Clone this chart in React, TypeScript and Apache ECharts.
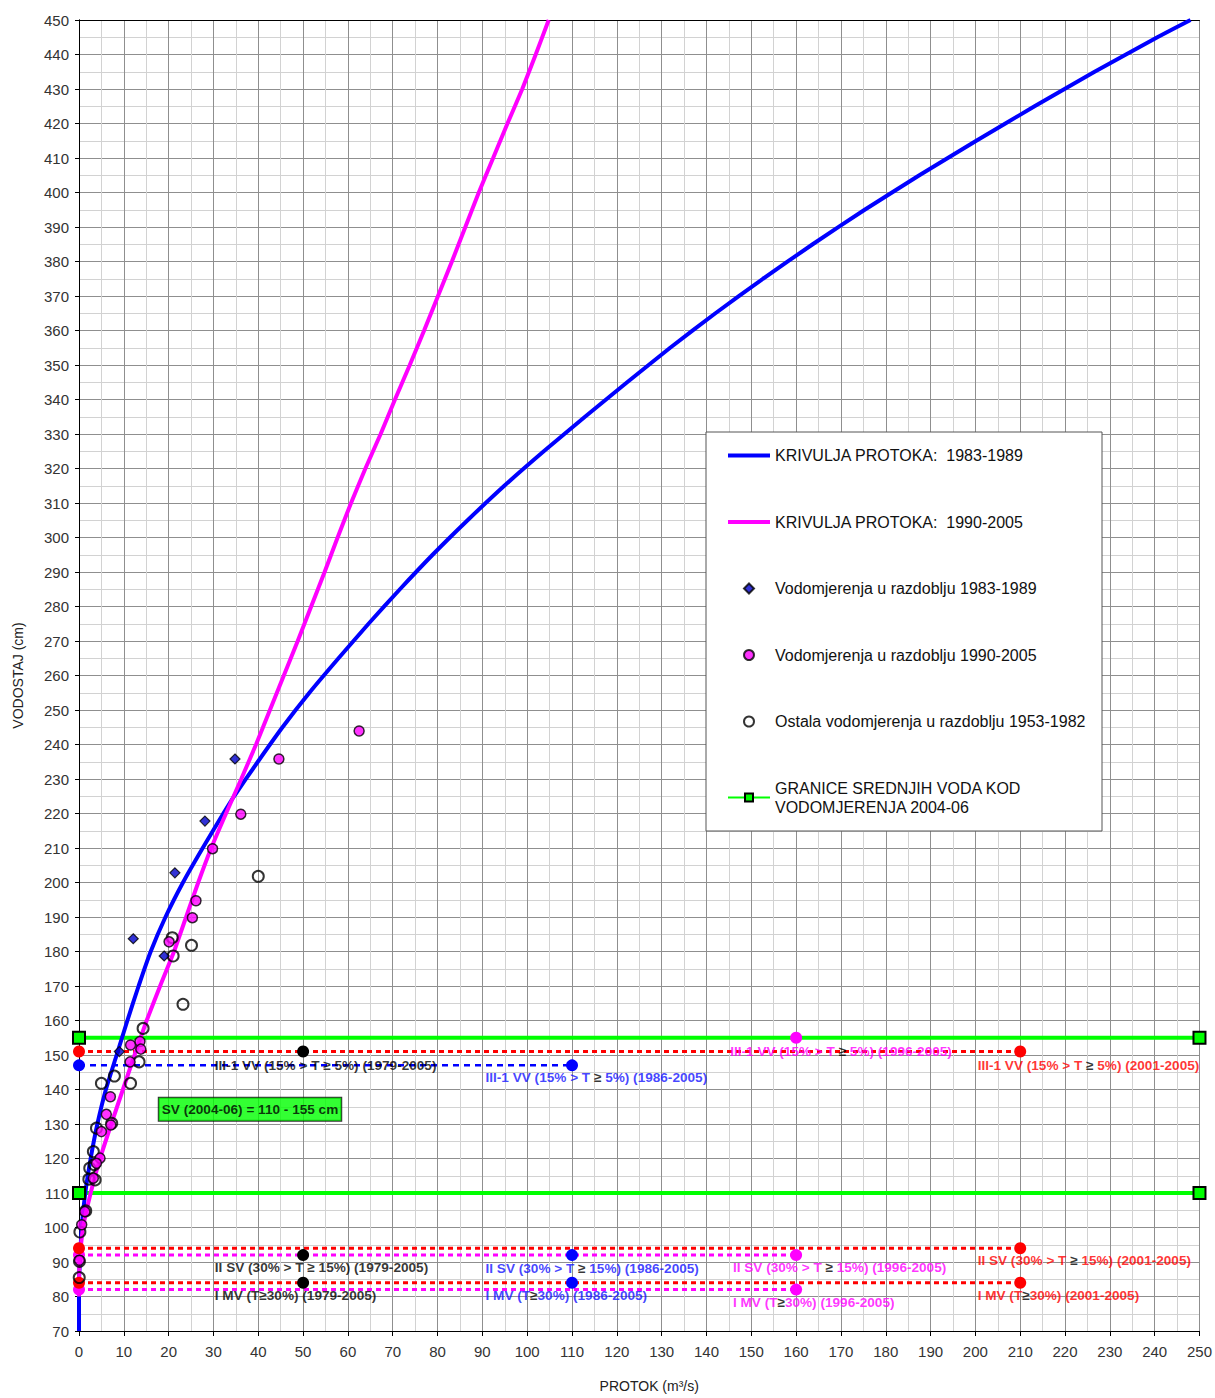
import React, { useEffect, useRef } from "react";
import * as echarts from "echarts";

const FONT = '"Liberation Sans", Arial, Helvetica, sans-serif';

// Rating curves [Q (m3/s), H (cm)]
const curve19831989: [number, number][] = [
  [0, 70], [0, 85], [0.2, 90], [0.6, 100], [1.4, 110], [2.6, 120], [4.1, 130],
  [6.0, 140], [8.4, 150], [10.8, 160], [13.3, 170], [16.0, 180], [19.3, 190],
  [23.2, 200], [27.6, 210], [32.2, 220], [34.6, 225], [39.9, 235], [45.4, 245],
  [51.4, 255], [57.9, 265], [64.6, 275], [71.6, 285], [78.9, 295], [86.7, 305],
  [94.9, 315], [103.7, 325], [112.9, 335], [122.3, 345], [131.9, 355], [142.0, 365],
  [152.6, 375], [163.7, 385], [175.3, 395], [187.5, 405], [200.2, 415], [213.2, 425],
  [226.6, 435], [240.6, 445], [248.0, 450],
];

const curve19902005: [number, number][] = [
  [0, 80], [0.1, 90], [0.9, 100], [2.6, 110], [4.7, 120], [7.2, 130], [9.8, 140],
  [12.4, 150], [15.1, 160], [18.1, 170], [21.2, 180], [23.9, 190], [26.6, 200],
  [29.5, 210], [32.8, 220], [36.2, 230], [39.5, 240], [42.6, 250], [45.7, 260],
  [48.8, 270], [51.8, 280], [54.8, 290], [57.7, 300], [60.7, 310], [63.9, 320],
  [67.3, 330], [70.5, 340], [73.8, 350], [77.0, 360], [80.1, 370], [83.2, 380],
  [86.2, 390], [89.2, 400], [92.4, 410], [95.6, 420], [98.9, 430], [101.9, 440],
  [104.8, 450],
];

// Measurements
const meas19831989: [number, number][] = [
  [12.1, 183.7], [21.4, 202.8], [19.0, 178.7], [34.8, 235.8], [28.1, 217.8], [9.0, 151],
];

const meas19902005: [number, number][] = [
  [62.5, 243.9], [44.6, 235.8], [36.1, 219.8], [29.8, 209.8], [26.1, 194.7], [25.3, 189.8],
  [20.1, 182.8], [11.5, 152.9], [13.6, 153.9], [13.8, 151.7], [11.4, 148], [7.0, 137.9],
  [6.1, 132.8], [7.1, 129.7], [5.0, 127.8], [4.7, 120.1], [3.9, 118.6], [3.2, 114.3],
  [1.3, 104.6], [0.6, 100.8], [0.1, 90.5],
];

const meas19531982: [number, number][] = [
  [40.0, 201.8], [23.2, 164.7], [25.1, 181.8], [21.0, 178.7], [20.8, 184.0], [14.3, 157.7],
  [13.4, 148], [11.5, 141.8], [7.9, 143.9], [5.0, 141.8], [3.9, 128.8], [7.3, 130.2],
  [3.2, 122], [2.4, 117.2], [2.2, 114], [3.4, 118.2], [3.6, 113.8], [1.5, 104.8],
  [0.2, 98.7], [0.1, 90.2], [0.05, 85.5],
];

// Mean water limits 2004-06
const greenUpper: [number, number][] = [[0, 155], [250, 155]];
const greenLower: [number, number][] = [[0, 110], [250, 110]];

// Characteristic levels (dotted lines)
const redLevels = [151, 94, 84];
const redLevelEnd = 210;
const blueLevels = [147];
const blueLevelEnd = 110;
const magentaLevels = [92, 82];
const magentaLevelEnd = 160;

// Level markers
const redMarks: [number, number][] = [[0, 151], [210, 151], [0, 94], [210, 94], [0, 84], [210, 84]];
const blueMarks: [number, number][] = [[0, 147], [110, 147], [110, 92], [110, 84]];
const magentaMarks: [number, number][] = [[160, 155], [0, 92], [160, 92], [0, 82], [160, 82]];
const blackMarks: [number, number][] = [[50, 151], [50, 92], [50, 84]];

// Annotations
const annoTexts = [
  "III-1 VV (15% > T ≥ 5%) (1979-2005)",
  "III-1 VV (15% > T ≥ 5%) (1986-2005)",
  "III-1 VV (15% > T ≥ 5%) (1996-2005)",
  "III-1 VV (15% > T ≥ 5%) (2001-2005)",
  "II SV (30% > T ≥ 15%) (1979-2005)",
  "II SV (30% > T ≥ 15%) (1986-2005)",
  "II SV (30% > T ≥ 15%) (1996-2005)",
  "II SV (30% > T ≥ 15%) (2001-2005)",
  "I MV (T≥30%) (1979-2005)",
  "I MV (T≥30%) (1986-2005)",
  "I MV (T≥30%) (1996-2005)",
  "I MV (T≥30%) (2001-2005)",
];
const annoAnchors: [number, number][] = [
  [30.3, 147], [90.7, 143.5], [145.3, 151], [200.5, 147],
  [30.3, 88.5], [90.7, 88.2], [145.9, 88.5], [200.5, 90.5],
  [30.3, 80.4], [90.7, 80.4], [145.9, 78.4], [200.5, 80.4],
];
const annoColors = [
  "#000000", "#1414ff", "#ff00ff", "#ff0000",
  "#000000", "#1414ff", "#ff00ff", "#ff0000",
  "#000000", "#1414ff", "#ff00ff", "#ff0000",
];
const svText = "SV (2004-06) = 110 - 155 cm";
const svAnchor: [number, number] = [17.8, 134.3];

const N_BLUE = "KRIVULJA PROTOKA:  1983-1989";
const N_PINK = "KRIVULJA PROTOKA:  1990-2005";
const N_DIA = "Vodomjerenja u razdoblju 1983-1989";
const N_MAG = "Vodomjerenja u razdoblju 1990-2005";
const N_OPEN = "Ostala vodomjerenja u razdoblju 1953-1982";
const N_GREEN = "GRANICE SREDNJIH VODA KOD\nVODOMJERENJA 2004-06";

const BAR_ICON = "path://M0,0L42,0L42,4L0,4Z";
const DIAMOND_ICON = "path://M5,0L10,5L5,10L0,5Z";

function levelLine(y: number, end: number, color: string, dash: number[], width: number) {
  return {
    type: "line",
    data: [[0, y], [end, y]],
    symbol: "none",
    silent: true,
    lineStyle: { color, width, type: dash },
    z: 2,
  };
}

function markSeries(data: [number, number][], color: string) {
  return {
    type: "scatter",
    data,
    symbol: "circle",
    symbolSize: 12,
    silent: true,
    itemStyle: { color, opacity: 1 },
    z: 4,
  };
}

export default function App() {
  const ref = useRef<HTMLDivElement>(null);

  useEffect(() => {
    if (!ref.current) return;
    const chart = echarts.init(ref.current, undefined, { renderer: "svg" });

    const axisCommon = {
      type: "value",
      axisLine: { show: true, onZero: false, lineStyle: { color: "#000", width: 1 } },
      axisTick: { show: true, length: 5, lineStyle: { color: "#000" } },
      axisLabel: { fontSize: 15, color: "#333", fontFamily: FONT },
      splitLine: { show: true, lineStyle: { color: "#8f8f8f", width: 1 } },
      minorTick: { show: false, splitNumber: 2 },
      minorSplitLine: { show: true, lineStyle: { color: "#d2d2d2", width: 1 } },
    };

    const labelFont = 13.6;

    const option: any = {
      animation: false,
      backgroundColor: "#ffffff",
      textStyle: { fontFamily: FONT },
      grid: { left: 79, right: 14, top: 20, bottom: 65 },
      xAxis: [
        {
          ...axisCommon,
          min: 0,
          max: 250,
          interval: 10,
          name: "PROTOK (m³/s)",
          nameLocation: "middle",
          nameGap: 48,
          nameTextStyle: { fontSize: 14, color: "#222", padding: [0, 0, 0, 20] },
          axisLabel: { ...axisCommon.axisLabel, margin: 13 },
        },
        {
          type: "value", position: "top", min: 0, max: 250,
          axisLine: { show: true, lineStyle: { color: "#000" } },
          axisTick: { show: false }, axisLabel: { show: false }, splitLine: { show: false },
        },
      ],
      yAxis: [
        {
          ...axisCommon,
          min: 70,
          max: 450,
          interval: 10,
          name: "VODOSTAJ (cm)",
          nameLocation: "middle",
          nameGap: 54,
          nameTextStyle: { fontSize: 14, color: "#222" },
          axisTick: { show: true, length: 4, lineStyle: { color: "#000" } },
          axisLabel: { ...axisCommon.axisLabel, margin: 10 },
        },
        {
          type: "value", position: "right", min: 70, max: 450,
          axisLine: { show: true, lineStyle: { color: "#000" } },
          axisTick: { show: false }, axisLabel: { show: false }, splitLine: { show: false },
        },
      ],
      legend: {
        orient: "vertical",
        left: 727,
        top: 446,
        padding: 0,
        itemWidth: 42,
        itemHeight: 10,
        itemGap: 47.5,
        z: 20,
        textStyle: { fontSize: 16, color: "#111", lineHeight: 19, fontFamily: FONT },
        data: [
          { name: N_BLUE, icon: BAR_ICON },
          { name: N_PINK, icon: BAR_ICON },
          { name: N_DIA, icon: DIAMOND_ICON },
          { name: N_MAG, icon: "circle" },
          { name: N_OPEN, icon: "circle" },
          { name: N_GREEN },
        ],
      },
      graphic: [
        {
          type: "rect",
          x: 706,
          y: 432,
          shape: { x: 0, y: 0, width: 396, height: 399 },
          style: { fill: "#ffffff", stroke: "#555555", lineWidth: 1 },
          z: 10,
          silent: true,
        },
      ],
      series: [
        ...redLevels.map((y) => levelLine(y, redLevelEnd, "#ff0000", [5, 4], 3)),
        ...blueLevels.map((y) => levelLine(y, blueLevelEnd, "#0000ff", [6, 5], 2.5)),
        ...magentaLevels.map((y) => levelLine(y, magentaLevelEnd, "#ff00ff", [5, 4], 3)),
        {
          name: N_GREEN,
          type: "line",
          data: greenUpper,
          symbol: "rect",
          symbolSize: 12,
          itemStyle: { color: "#00ff00", borderColor: "#000", borderWidth: 2 },
          lineStyle: { color: "#00ff00", width: 4 },
          z: 3,
        },
        {
          name: N_GREEN,
          type: "line",
          data: greenLower,
          symbol: "rect",
          symbolSize: 12,
          itemStyle: { color: "#00ff00", borderColor: "#000", borderWidth: 2 },
          lineStyle: { color: "#00ff00", width: 4 },
          z: 3,
        },
        {
          name: N_BLUE,
          type: "line",
          data: curve19831989,
          symbol: "none",
          smooth: 0.15,
          lineStyle: { color: "#0000ff", width: 4 },
          itemStyle: { color: "#0000ff" },
          z: 3,
        },
        {
          name: N_PINK,
          type: "line",
          data: curve19902005,
          symbol: "none",
          smooth: 0.15,
          lineStyle: { color: "#ff00ff", width: 4 },
          itemStyle: { color: "#ff00ff" },
          z: 3,
        },
        markSeries(magentaMarks, "#ff00ff"),
        markSeries(redMarks, "#ff0000"),
        markSeries(blueMarks, "#0000ff"),
        markSeries(blackMarks, "#000000"),
        {
          name: N_OPEN,
          type: "scatter",
          data: meas19531982,
          symbol: "circle",
          symbolSize: 11,
          itemStyle: { color: "rgba(255,255,255,0)", borderColor: "#000", borderWidth: 2 },
          z: 5,
        },
        {
          name: N_MAG,
          type: "scatter",
          data: meas19902005,
          symbol: "circle",
          symbolSize: 10,
          itemStyle: { color: "#ff00ff", borderColor: "#000", borderWidth: 1.5 },
          z: 5,
        },
        {
          name: N_DIA,
          type: "scatter",
          data: meas19831989,
          symbol: "diamond",
          symbolSize: 10,
          itemStyle: { color: "#0000cc", borderColor: "#000", borderWidth: 1.2 },
          z: 5,
        },
        {
          type: "scatter",
          silent: true,
          symbolSize: 0,
          z: 6,
          data: annoTexts.map((t, i) => ({
            name: t,
            value: annoAnchors[i],
            label: { color: annoColors[i] },
          })),
          label: {
            show: true,
            position: "right",
            distance: 0,
            fontSize: labelFont,
            fontWeight: "bold",
            fontFamily: FONT,
            formatter: (p: any) => String(p.name).replace(/≥/g, "{k|≥}"),
            rich: {
              k: { color: "#000", fontSize: labelFont, fontWeight: "bold", fontFamily: FONT },
            },
          },
        },
        {
          type: "scatter",
          silent: true,
          symbolSize: 0,
          z: 6,
          data: [{ name: svText, value: svAnchor }],
          label: {
            show: true,
            position: "right",
            distance: 0,
            formatter: (p: any) => p.name,
            fontSize: labelFont,
            fontWeight: "bold",
            color: "#000",
            fontFamily: FONT,
            backgroundColor: "#00ff00",
            borderColor: "#000",
            borderWidth: 1,
            padding: [5, 3, 4, 3],
          },
        },
      ],
    };

    chart.setOption(option);
    return () => {
      chart.dispose();
    };
  }, []);

  return (
    <div
      ref={ref}
      style={{ position: "absolute", left: 0, top: 0, width: 1215, height: 1398, background: "#fff" }}
    />
  );
}
